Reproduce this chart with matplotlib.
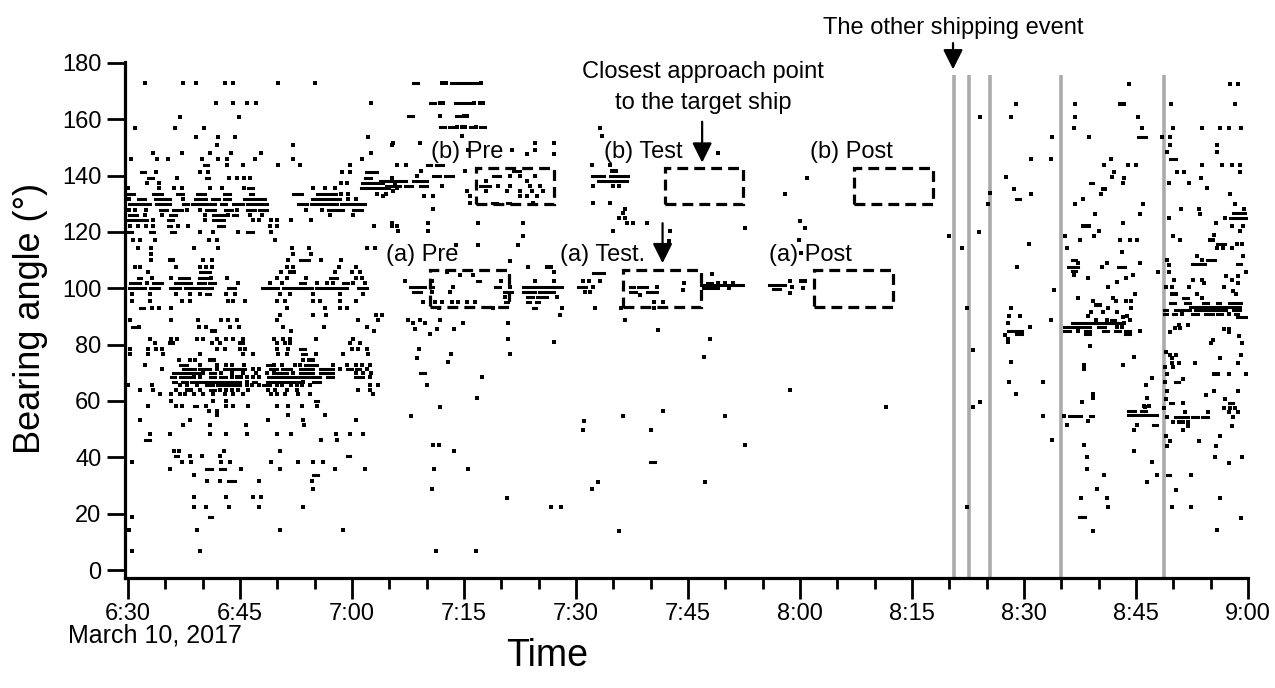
import matplotlib.pyplot as plt
from matplotlib.patches import Rectangle

plt.rcParams['font.family'] = ['Liberation Sans', 'DejaVu Sans']

# time is in minutes after 6:30 (March 10, 2017), angle in degrees
tick_minutes = list(range(0, 151, 15))
tick_labels = ['6:30', '6:45', '7:00', '7:15', '7:30', '7:45',
               '8:00', '8:15', '8:30', '8:45', '9:00']
angle_ticks = list(range(0, 181, 20))

# the other shipping event (grey lines)
event_minutes = [110.6, 112.6, 115.4, 124.9, 138.7]

# analysis windows: (start, end) in minutes, angle span per group
windows_a = [(40.4, 51.0), (66.3, 76.8), (91.9, 102.4)]
windows_b = [(46.6, 57.0), (71.9, 82.4), (97.3, 107.8)]
span_a = (93.5, 106.5)
span_b = (129.9, 142.6)
names_a = ['(a) Pre', '(a) Test.', '(a) Post']
names_b = ['(b) Pre', '(b) Test', '(b) Post']

# detections before ~7:07: (angle, [times])
early_dot_rows = [
    (172.7, [2.3, 7.4, 9.1, 13.0, 14.1, 20.1, 25.0]),
    (165.6, [11.8, 14.1, 16.0, 17.2, 32.6]),
    (160.8, [7.0, 14.9]),
    (157.0, [0.9, 6.3, 10.2]),
    (153.7, [9.1, 12.1, 14.3, 32.2]),
    (150.9, [11.9, 22.1, 35.3]),
    (148.0, [3.3, 7.2, 11.0, 13.8, 17.8, 32.6]),
    (145.9, [0.4, 3.9, 5.3, 9.9, 12.0, 13.3, 17.0, 22.1, 31.4]),
    (143.6, [13.3, 15.4, 20.1, 23.0, 29.8, 36.0]),
    (141.2, [3.8, 9.6, 10.7, 28.7, 29.8]),
    (139.3, [6.6, 13.5, 14.6, 15.5, 16.4, 35.4]),
    (137.4, [2.6, 4.1, 28.5, 29.3, 35.8]),
    (135.5, [0.0, 4.2, 6.2, 7.2, 11.0, 12.6, 15.5, 24.8, 26.4, 27.7, 36.1]),
    (133.6, [28.6, 29.5, 33.3, 34.6]),
    (131.7, [0.2, 7.4, 29.5, 30.5]),
    (127.9, [0.2, 0.9, 2.4, 7.9, 9.6, 14.6, 23.9, 26.0]),
    (126.0, [2.3, 4.5, 10.3, 13.4, 16.3, 18.0, 27.0, 30.2]),
    (124.1, [3.4, 10.3, 16.8, 17.5, 19.2, 19.9, 21.9, 24.5]),
    (122.2, [0.3, 1.4, 2.4, 3.4, 6.7, 8.1, 19.0, 19.9, 32.9, 35.3, 36.0]),
    (119.9, [9.6, 11.4, 14.7, 19.2]),
    (117.3, [0.7, 1.6, 3.6, 10.8, 11.9, 19.7]),
    (114.2, [1.4, 3.1, 8.8, 12.1, 22.0, 24.2, 32.0, 33.1]),
    (112.3, [3.1, 22.1, 24.5]),
    (110.0, [3.1, 5.6, 6.1, 10.0, 11.3, 21.5, 25.9, 28.6]),
    (107.6, [0.9, 1.6, 6.5, 9.6, 10.5, 11.3, 21.3, 22.1, 28.2, 30.6]),
    (105.7, [2.7, 20.5, 21.7, 22.3, 27.7, 30.0, 31.1]),
    (103.6, [3.2, 5.8, 11.1, 13.3, 20.0, 21.3, 23.9, 30.6, 31.3]),
    (101.9, [2.5, 14.8, 19.0, 20.6, 25.3, 26.6, 27.5, 30.2, 31.7]),
    (98.1, [0.5, 2.9, 6.5, 8.3, 9.6, 13.2, 14.3, 20.4, 21.7, 24.8, 28.4, 31.5]),
    (95.5, [0.5, 2.9, 7.2, 8.3, 13.4, 14.1, 15.7, 19.9, 21.0, 24.8, 25.7, 28.4, 30.6]),
    (93.1, [3.2, 4.1, 5.8, 21.3, 26.4, 28.4, 29.3]),
    (90.5, [20.4, 24.8, 26.5, 33.2, 34.0]),
    (88.7, [0.3, 5.8, 9.4, 12.5, 13.4, 14.6, 19.9, 30.8, 33.5]),
    (86.3, [1.5, 9.5, 10.5, 13.7, 14.9, 20.8, 26.2, 32.0]),
    (84.8, [11.2, 11.7, 21.9, 32.9]),
    (82.1, [2.9, 5.8, 6.6, 9.2, 10.1, 11.9, 13.2, 14.1, 15.4, 19.5, 20.8, 21.7, 25.2, 30.2]),
    (80.4, [3.6, 5.6, 6.1, 11.3, 12.3, 15.0, 15.4, 19.9, 21.0, 21.7, 29.7, 31.1]),
    (78.3, [0.3, 2.7, 3.8, 4.6, 11.9, 13.0, 15.0, 15.7, 19.9, 21.5, 30.0, 30.8, 32.0]),
    (76.8, [0.3, 2.7, 4.7, 9.6, 15.4, 16.8, 20.1, 21.3, 25.2, 28.8, 32.2]),
    (74.4, [6.9, 8.3, 9.0, 11.0, 11.5, 23.5, 24.2, 24.8]),
    (72.9, [2.3, 9.6, 11.9, 13.2, 13.9, 15.5, 19.5, 20.6, 22.4, 23.0, 27.5, 29.3, 30.5, 31.4, 32.4]),
    (71.4, [4.6, 11.9, 16.8, 17.5, 28.4, 32.0]),
    (70.0, [10.1, 12.5, 13.9, 15.4, 17.2, 18.6, 19.5, 22.1, 30.6, 31.5, 32.6]),
    (68.5, [8.8, 9.6, 13.9, 14.6, 15.2, 15.9, 16.8, 17.5, 32.4]),
    (66.9, [15.9, 23.5]),
    (65.5, [0.0, 3.2, 7.0, 7.9, 9.2, 15.9, 16.6, 17.5, 19.9, 20.6, 21.9, 22.6, 23.3, 24.4, 32.4, 33.5]),
    (64.0, [1.6, 3.4, 6.5, 7.9, 8.5, 9.6, 12.3, 13.1, 13.9, 14.8, 16.1, 18.8, 19.7, 21.3, 22.6, 30.8, 32.4]),
    (62.5, [4.3, 5.8, 7.0, 7.6, 8.8, 10.1, 11.4, 13.0, 14.1, 15.4, 19.2, 19.9, 21.0, 22.8, 24.4, 32.8]),
    (60.1, [5.8, 11.4, 13.1]),
    (58.3, [2.7, 6.5, 7.2, 10.5, 13.2, 14.1, 16.1, 19.9, 21.5, 23.3, 25.3]),
    (56.5, [10.9, 11.9]),
    (55.1, [11.9, 21.5, 26.4]),
    (53.2, [1.6, 8.3, 18.8, 23.5, 30.5]),
    (51.5, [7.4, 11.0, 15.8, 23.6]),
    (48.2, [2.9, 5.6, 11.0, 13.2, 15.9, 19.9, 21.9, 27.9, 29.8, 31.5]),
    (46.1, [25.8, 28.0]),
    (42.3, [6.2, 6.9, 12.8, 20.4]),
    (40.5, [8.3, 9.9, 12.3]),
    (38.3, [0.6, 7.2, 8.4, 12.4, 13.7, 19.1, 22.8, 24.8, 26.1]),
    (36.0, [5.6, 15.2, 20.4, 27.7, 31.7]),
    (33.6, [8.8]),
    (31.5, [10.6, 12.3, 17.5, 24.7]),
    (28.6, [24.8]),
    (26.0, [8.9, 13.1, 16.8, 17.8]),
    (22.4, [8.8, 10.5, 13.6, 17.6, 23.5]),
    (18.8, [0.5]),
    (14.3, [0.2, 9.2, 20.3, 28.8]),
    (6.9, [0.6, 9.6]),
]

# continuous detections at one angle: (angle, [(start, end), ...])
early_run_rows = [
    (143.6, [(10.2, 10.7)]),
    (141.2, [(1.7, 2.3), (31.9, 33.4)]),
    (139.3, [(2.7, 3.3), (10.4, 10.8), (31.8, 32.5)]),
    (137.4, [(31.3, 34.2)]),
    (135.5, [(16.1, 16.8), (31.2, 34.9)]),
    (133.6, [(0.0, 0.8), (3.4, 4.5), (6.6, 7.4), (9.2, 10.3), (12.8, 13.7), (16.3, 16.8),
             (22.1, 23.3), (25.3, 26.4), (26.8, 27.8)]),
    (131.7, [(1.3, 2.3), (3.6, 4.6), (5.0, 5.6), (9.0, 10.5), (11.3, 12.2), (12.8, 13.7),
             (15.5, 16.6), (17.0, 18.3), (24.7, 26.0), (26.4, 28.4)]),
    (129.8, [(0.2, 2.9), (3.8, 5.6), (7.4, 8.0), (8.6, 9.6), (10.1, 11.7), (12.5, 13.2),
             (14.1, 15.4), (15.9, 17.5), (17.8, 18.6), (22.8, 24.0), (24.5, 26.6),
             (27.1, 28.0), (28.6, 29.8), (30.2, 31.7)]),
    (127.9, [(4.3, 5.2), (6.1, 7.3), (10.5, 11.7), (13.0, 13.9), (15.9, 17.0), (17.5, 18.6),
             (26.8, 28.8), (30.2, 31.3)]),
    (126.0, [(0.2, 1.2), (5.6, 6.5), (11.4, 12.8), (14.1, 14.6)]),
    (124.1, [(0.0, 1.4), (1.8, 2.5), (5.4, 6.0), (11.4, 12.8)]),
    (122.2, [(5.4, 5.8), (12.1, 12.8)]),
    (119.9, [(0.0, 0.5), (2.9, 3.5), (5.8, 6.3), (15.9, 16.8)]),
    (110.0, [(23.0, 24.2)]),
    (105.7, [(9.6, 11.0)]),
    (103.6, [(1.4, 1.8), (6.9, 8.2), (9.5, 10.9), (27.0, 28.0)]),
    (101.9, [(0.3, 1.6), (3.4, 4.5), (6.3, 8.5), (9.4, 10.3), (10.8, 11.7), (23.0, 23.7),
             (28.8, 29.5)]),
    (100.0, [(0.2, 2.3), (2.9, 4.1), (5.6, 7.0), (7.6, 9.6), (10.1, 11.2), (13.4, 14.3),
             (17.9, 19.0), (19.4, 20.1), (20.8, 22.0), (22.4, 23.5), (23.9, 24.6),
             (25.2, 26.6), (27.1, 28.0), (28.4, 29.3), (30.8, 32.0)]),
    (98.1, [(10.5, 11.0)]),
    (93.1, [(1.6, 2.1)]),
    (86.3, [(0.5, 0.9)]),
    (78.3, [(23.0, 23.7)]),
    (76.8, [(23.3, 23.8)]),
    (72.9, [(7.0, 7.9), (18.6, 19.0), (23.7, 25.3)]),
    (71.4, [(7.4, 9.0), (9.5, 11.0), (12.8, 14.0), (14.4, 15.7), (19.0, 19.9), (20.6, 21.9),
            (23.0, 24.8), (25.7, 27.5), (29.3, 30.0), (30.5, 31.1)]),
    (70.0, [(6.1, 7.0), (7.4, 9.6), (11.0, 11.7), (19.9, 21.3), (23.0, 24.8), (25.7, 27.5)]),
    (68.5, [(5.8, 6.3), (7.0, 8.3), (11.0, 11.7), (12.3, 13.2), (18.8, 19.5), (19.9, 22.6),
            (23.0, 25.7), (26.6, 27.5), (30.4, 31.5)]),
    (66.9, [(6.1, 6.5), (7.2, 7.9), (8.5, 9.6), (10.1, 12.5), (12.9, 15.0), (16.8, 17.2),
            (18.6, 21.3), (21.7, 23.0), (24.8, 25.7)]),
    (65.5, [(10.5, 11.4), (11.9, 13.0), (13.4, 15.0), (18.1, 19.0)]),
    (64.0, [(11.0, 11.7)]),
    (60.1, [(25.0, 25.5)]),
    (58.3, [(8.8, 9.2)]),
    (46.1, [(2.3, 2.9)]),
    (40.5, [(6.3, 6.7), (29.4, 29.8)]),
    (36.0, [(10.5, 11.2), (12.3, 13.0)]),
    (33.6, [(24.8, 25.5)]),
    (31.5, [(13.4, 14.3)]),
    (18.8, [(10.8, 11.2)]),
]

# 7:05 - 8:25
mid_run_rows = [
    (172.9, [(38.2, 38.9), (43.2, 43.9), (44.3, 45.0), (45.4, 46.1), (46.5, 47.0)]),
    (165.8, [(40.4, 41.1), (43.8, 44.4), (44.8, 46.0)]),
    (161.1, [(37.5, 38.2), (44.0, 44.5)]),
    (157.3, [(41.8, 42.4), (43.0, 43.6), (45.8, 46.3), (47.2, 47.8)]),
    (143.9, [(40.0, 40.6), (41.3, 42.2)]),
    (141.5, [(51.6, 52.5)]),
    (139.8, [(40.9, 41.8), (42.4, 43.6), (48.9, 49.8), (62.1, 63.7), (64.5, 65.5), (65.9, 67.0)]),
    (138.0, [(33.8, 37.3), (38.2, 40.0), (62.9, 66.8)]),
    (136.2, [(34.6, 36.4), (37.1, 38.0), (39.1, 40.0), (47.1, 48.5)]),
    (130.1, [(48.7, 49.4), (50.7, 51.2)]),
    (105.4, [(62.3, 63.7)]),
    (102.4, [(46.7, 47.1)]),
    (102.0, [(77.5, 78.2)]),
    (101.2, [(85.8, 88.0)]),
    (101.0, [(76.8, 79.5), (80.0, 82.4)]),
    (100.6, [(37.8, 39.8), (40.5, 40.9), (49.1, 49.8), (52.9, 54.0), (54.4, 56.0), (56.4, 58.1),
             (60.3, 61.4), (67.2, 67.8), (68.3, 69.5)]),
    (100.0, [(77.0, 79.0)]),
    (99.6, [(86.4, 87.3)]),
    (98.8, [(38.2, 39.3), (50.3, 51.4), (52.9, 54.5), (55.0, 57.0), (67.2, 68.0), (69.5, 70.8)]),
    (97.0, [(53.4, 54.2), (54.8, 56.1)]),
    (95.2, [(50.5, 50.9), (53.4, 53.8), (54.6, 55.0)]),
    (92.9, [(54.3, 54.7)]),
    (69.9, [(39.1, 39.8)]),
    (38.3, [(69.9, 70.6)]),
]

mid_dots = [
    (42.0, 172.9), (42.6, 172.9), (47.3, 172.9), (41.8, 165.8), (42.2, 165.8), (46.4, 165.8),
    (47.1, 165.8), (47.6, 165.8), (41.8, 161.1), (45.0, 161.1), (45.4, 161.1), (44.7, 157.3),
    (45.1, 157.3), (44.1, 157.3), (46.6, 157.3),
    (63.2, 157.0), (63.5, 154.2), (44.7, 154.2), (35.5, 151.6), (39.1, 151.6), (54.5, 151.6),
    (57.0, 151.6), (45.6, 149.2), (51.4, 149.2), (54.5, 149.2), (53.4, 147.5), (57.0, 147.5),
    (36.0, 143.9), (37.3, 143.9), (62.1, 143.9), (64.5, 143.9), (39.3, 141.5), (45.1, 141.5),
    (64.8, 141.5), (65.4, 141.5), (38.7, 139.8), (51.2, 139.8), (52.5, 139.8), (54.5, 139.8),
    (48.0, 138.0), (53.4, 138.0), (42.0, 136.2), (49.6, 136.2), (51.2, 136.2), (53.8, 136.2),
    (55.2, 136.2), (62.3, 136.2), (65.0, 136.2), (65.8, 136.2), (35.5, 134.4), (45.4, 134.4),
    (48.0, 134.4), (50.7, 134.4), (52.5, 134.4), (54.1, 134.4), (55.6, 134.4), (34.2, 132.7),
    (39.6, 132.7), (40.9, 132.7), (45.8, 132.7), (52.5, 132.7), (53.4, 132.7), (54.8, 132.7),
    (45.8, 130.1), (54.3, 130.1), (62.3, 130.1), (64.5, 130.1), (40.9, 128.0), (66.6, 128.0),
    (66.3, 126.7), (65.7, 125.0), (66.6, 125.0), (35.3, 123.2), (40.2, 123.2), (46.9, 123.2),
    (52.9, 123.2), (66.8, 123.2), (67.7, 123.2), (69.5, 123.2), (36.2, 120.2), (40.2, 120.2),
    (65.0, 120.2), (72.6, 120.2), (52.9, 118.5), (72.4, 116.7), (44.0, 115.5), (46.9, 115.5),
    (52.3, 115.5), (51.2, 109.5), (53.6, 107.7), (56.1, 107.7), (56.7, 107.7), (42.7, 105.9),
    (57.0, 105.9), (44.5, 104.8), (46.2, 104.8), (37.1, 102.4), (40.7, 102.4), (50.0, 102.4),
    (54.5, 102.4), (57.0, 102.4), (61.0, 102.4), (61.7, 102.4), (63.2, 102.4), (43.6, 100.6),
    (51.2, 100.6), (62.3, 100.6), (70.8, 100.6), (40.7, 98.8), (43.1, 98.8), (61.2, 98.8),
    (61.9, 98.8), (68.6, 97.6), (50.5, 97.0), (57.4, 97.0), (39.5, 95.2), (41.1, 95.2),
    (42.0, 95.2), (43.4, 95.2), (44.2, 95.2), (45.4, 95.2), (46.5, 95.2), (70.4, 95.2),
    (71.7, 95.2), (41.6, 92.9), (48.9, 92.9), (58.1, 92.9), (62.5, 92.9), (66.1, 92.9),
    (70.4, 92.9), (34.0, 90.5), (57.9, 90.5), (37.5, 88.7), (39.1, 88.7), (41.8, 88.7),
    (66.6, 88.7), (38.2, 87.5), (39.8, 87.5), (44.9, 87.5), (50.9, 87.5), (38.4, 85.7),
    (41.4, 85.7), (43.7, 85.7), (71.0, 85.1), (40.5, 83.6), (50.9, 82.1), (57.1, 81.0),
    (39.0, 78.3), (43.3, 76.8), (51.2, 76.8), (38.7, 75.4), (42.9, 74.0), (47.4, 68.5),
    (40.0, 65.5), (46.8, 61.0), (41.8, 58.0), (71.6, 56.3), (37.9, 54.8), (66.3, 54.8),
    (61.1, 53.0), (60.9, 49.8), (70.1, 49.8), (40.8, 44.3), (41.7, 44.3), (43.7, 42.3),
    (41.0, 36.0), (45.6, 36.0), (62.9, 31.2), (40.7, 28.6), (62.1, 28.6), (50.8, 25.6),
    (56.7, 22.4), (58.0, 22.4), (65.8, 14.0), (41.2, 6.9), (46.6, 6.9),
    (79.0, 147.9), (90.9, 139.1), (88.0, 133.5), (82.7, 121.5), (90.0, 123.7), (90.7, 121.3),
    (89.9, 117.2), (90.1, 112.4), (78.2, 105.0), (79.0, 102.0), (80.0, 102.0), (81.0, 102.0),
    (80.5, 100.0), (88.7, 102.4), (88.7, 98.2), (89.0, 100.5), (90.2, 102.4), (90.7, 102.4),
    (90.4, 100.0), (74.4, 99.4), (74.5, 102.0), (77.9, 82.1), (77.1, 75.5), (88.7, 64.0),
    (101.5, 58.0), (79.9, 54.8), (82.7, 44.3), (77.3, 31.3),
    (112.4, 92.9), (113.2, 78.2), (113.2, 58.0), (114.1, 59.5), (112.4, 22.4), (114.1, 160.7),
    (115.4, 133.7), (115.2, 129.9), (110.0, 118.6), (111.7, 114.2), (114.0, 120.1),
]

# 8:25 - 9:00
late_run_rows = [
    (153.8, [(135.3, 136.4)]),
    (145.9, [(139.6, 140.3)]),
    (137.4, [(128.8, 129.2)]),
    (131.7, [(118.9, 119.5)]),
    (126.7, [(148.0, 149.6)]),
    (125.0, [(147.6, 149.8)]),
    (115.7, [(145.9, 146.9)]),
    (110.0, [(126.4, 127.0), (144.5, 145.6)]),
    (108.5, [(142.5, 144.2), (148.5, 149.1)]),
    (107.7, [(125.9, 127.3), (132.6, 133.5)]),
    (106.2, [(126.4, 127.0)]),
    (96.6, [(141.3, 142.0)]),
    (94.9, [(139.5, 140.2), (141.6, 142.2), (144.0, 144.7), (145.8, 146.3), (147.4, 149.1)]),
    (93.5, [(142.2, 146.9), (147.1, 148.9)]),
    (92.3, [(138.7, 139.1), (140.2, 142.2), (142.9, 144.7), (145.1, 147.1), (148.0, 148.9)]),
    (90.9, [(138.8, 139.1), (140.0, 140.4), (142.5, 143.3), (144.2, 145.3), (145.8, 146.5),
            (148.2, 148.7)]),
    (89.7, [(148.5, 149.8)]),
    (88.7, [(131.7, 132.2)]),
    (87.5, [(126.4, 129.4), (129.8, 130.8), (131.1, 133.1)]),
    (86.1, [(125.3, 128.8), (129.9, 130.8)]),
    (84.9, [(117.9, 119.8), (125.3, 126.2), (128.2, 128.8), (130.6, 131.3), (132.2, 132.9),
            (133.5, 134.2)]),
    (83.6, [(118.9, 119.8), (128.2, 128.8), (133.5, 134.2)]),
    (66.6, [(140.2, 140.7)]),
    (59.2, [(139.5, 139.9), (147.4, 148.0)]),
    (56.5, [(134.0, 134.9), (135.7, 136.4)]),
    (55.0, [(134.0, 136.9), (137.3, 137.8)]),
    (54.8, [(126.0, 127.7), (128.8, 129.3)]),
    (54.4, [(140.2, 142.0), (142.5, 143.3), (143.8, 144.7)]),
    (51.4, [(137.3, 137.8)]),
    (33.7, [(139.1, 139.5)]),
    (18.7, [(127.4, 128.2)]),
]

late_dots = [
    (117.6, 139.4), (118.3, 160.7), (119.0, 165.4), (118.6, 135.4), (120.7, 115.7),
    (120.9, 145.9), (120.9, 133.6), (123.6, 145.9), (123.8, 153.8), (125.5, 118.7),
    (125.8, 114.2), (126.9, 165.4), (126.9, 160.7), (126.7, 157.0), (126.9, 130.0),
    (127.9, 131.7), (127.9, 122.0), (128.4, 122.0), (128.7, 122.0), (127.5, 117.3),
    (128.7, 153.8), (129.5, 126.5), (129.4, 118.7), (130.0, 120.2), (130.3, 133.6),
    (130.6, 135.4), (130.9, 135.4), (130.7, 143.6), (131.7, 145.9), (131.8, 139.4),
    (132.1, 141.3), (132.8, 165.4), (133.4, 165.4), (132.8, 117.3), (133.2, 137.2),
    (133.4, 139.3), (133.1, 112.8), (133.3, 123.2), (134.1, 172.5), (133.9, 143.6),
    (135.0, 143.6), (134.2, 117.3), (135.2, 117.3), (135.3, 160.7), (135.8, 157.0),
    (135.6, 126.5), (135.9, 130.0), (137.9, 105.8), (138.5, 153.8),
    (118.3, 92.9), (118.0, 90.1), (119.5, 90.1), (117.8, 87.5), (120.8, 86.1), (117.4, 83.3),
    (117.8, 82.1), (117.8, 81.0), (118.3, 74.0), (118.0, 66.9), (119.0, 62.5), (122.5, 66.9),
    (122.5, 54.8), (123.7, 46.1), (123.6, 88.8), (124.0, 99.4), (119.1, 107.7),
    (126.7, 104.8), (127.3, 108.9), (128.6, 103.6), (127.2, 96.7), (130.4, 107.7),
    (131.1, 108.9), (131.3, 100.6), (131.9, 96.7), (132.5, 102.1), (133.6, 103.6),
    (134.6, 104.8), (135.5, 108.9), (129.2, 95.5), (129.6, 94.0), (130.2, 94.0), (131.3, 92.9),
    (132.3, 95.5), (133.7, 95.5), (134.3, 95.5), (134.9, 98.1), (134.3, 92.9), (128.6, 90.1),
    (129.0, 91.4), (129.7, 88.7), (130.6, 91.4), (131.1, 88.7), (132.4, 91.4), (133.3, 89.9),
    (133.8, 90.1), (134.2, 88.7), (133.4, 87.5), (135.5, 84.9), (132.4, 86.1), (133.1, 86.1),
    (127.3, 84.9), (128.8, 79.5), (128.0, 72.6), (128.0, 71.4), (133.2, 72.6), (134.8, 75.5),
    (127.8, 59.5), (129.2, 62.5), (129.2, 61.0), (125.3, 54.8), (125.8, 51.4), (128.6, 53.0),
    (128.1, 44.3), (128.4, 40.2), (128.5, 36.0), (130.7, 33.7), (129.8, 28.6), (127.7, 25.7),
    (131.1, 25.7), (131.2, 22.4), (129.2, 14.0), (136.2, 58.0), (135.2, 51.4), (134.8, 49.6),
    (136.5, 61.0), (136.8, 58.3), (136.1, 58.3), (136.4, 65.5), (137.1, 68.3), (134.8, 42.3),
    (137.1, 38.3), (136.5, 31.3), (137.8, 33.7),
    (147.6, 172.5), (148.7, 172.5), (139.7, 165.4), (148.2, 165.4), (139.9, 156.9),
    (143.8, 156.9), (146.2, 156.9), (147.4, 156.9), (149.1, 156.9), (139.5, 153.7),
    (139.5, 150.9), (139.2, 148.3), (145.8, 150.9), (145.9, 148.3), (143.9, 143.6),
    (146.5, 143.6), (147.8, 143.6), (148.9, 143.6), (140.5, 141.3), (141.4, 141.3),
    (148.9, 141.3), (143.7, 139.3), (139.4, 137.4), (142.1, 137.4), (144.5, 135.5),
    (147.6, 133.6), (148.3, 130.0), (149.5, 128.2), (141.0, 128.2), (143.5, 128.2),
    (143.6, 126.2), (139.4, 125.0), (146.9, 125.0), (145.7, 123.2), (147.8, 122.0),
    (149.4, 122.0), (148.9, 120.2), (139.9, 118.7), (140.9, 117.3), (144.9, 117.3),
    (145.3, 117.3), (145.4, 118.8), (145.8, 114.2), (146.7, 114.2), (147.8, 114.2),
    (148.5, 115.7), (149.2, 115.7), (143.2, 111.4), (143.8, 110.0), (149.4, 111.4),
    (139.2, 110.0), (139.4, 108.4), (139.4, 105.8), (140.1, 103.1), (142.6, 103.1),
    (143.8, 103.1), (144.1, 101.9), (142.1, 100.4), (147.1, 104.3), (147.8, 103.1),
    (148.7, 104.3), (149.7, 105.8), (146.8, 100.4), (148.7, 101.9), (148.0, 98.9),
    (148.4, 97.8), (139.0, 100.4), (139.8, 100.4), (139.8, 97.8), (140.4, 97.8),
    (143.2, 97.8), (143.8, 96.6), (141.1, 90.9), (147.4, 90.9),
    (140.2, 85.8), (140.9, 85.8), (140.8, 87.0), (142.0, 87.0), (139.5, 84.3), (146.8, 85.4),
    (147.4, 85.4), (147.4, 84.3), (148.8, 83.1), (145.3, 81.7), (145.1, 80.5), (149.2, 80.5),
    (139.0, 77.5), (139.6, 76.3), (140.3, 76.3), (149.1, 76.3), (139.8, 75.1), (146.3, 75.1),
    (139.8, 73.6), (140.8, 73.6), (142.9, 73.6), (148.7, 73.6), (138.9, 72.2), (139.9, 72.2),
    (139.2, 69.6), (145.5, 69.6), (146.0, 69.6), (147.5, 69.6), (149.7, 69.6), (141.3, 67.8),
    (138.9, 66.6), (139.2, 63.7), (145.4, 63.7), (148.6, 63.7), (144.4, 62.1), (139.0, 60.6),
    (146.9, 60.6), (141.3, 59.2), (138.8, 57.6), (146.8, 57.6), (147.6, 57.6), (148.2, 57.6),
    (141.6, 56.1), (144.7, 56.1), (147.4, 56.1), (148.6, 56.1), (139.1, 54.4), (148.0, 54.4),
    (140.0, 52.7), (140.7, 52.7), (141.3, 52.7), (142.0, 52.7), (142.0, 51.1), (147.8, 51.1),
    (141.3, 49.7), (139.0, 47.7), (146.3, 47.7), (139.5, 45.9), (143.4, 45.9), (139.2, 44.1),
    (145.7, 44.1), (145.6, 40.2), (149.2, 40.2), (147.5, 38.1), (142.4, 33.7), (140.3, 28.4),
    (146.2, 25.4), (139.8, 22.5), (142.4, 22.5), (149.1, 18.6), (145.8, 14.2),
]

# gather points and runs
dot_t, dot_a = [], []
for deg, times in early_dot_rows:
    dot_t += times
    dot_a += [deg] * len(times)
for t, deg in mid_dots + late_dots:
    dot_t.append(t)
    dot_a.append(deg)

run_y, run_x0, run_x1 = [], [], []
for deg, spans in early_run_rows + mid_run_rows + late_run_rows:
    for t0, t1 in spans:
        run_y.append(deg)
        run_x0.append(t0)
        run_x1.append(t1)

fig = plt.figure(figsize=(12.75, 6.88), dpi=100)
ax = fig.add_axes([0.098, 0.16, 0.8808, 0.7503])

ax.vlines(event_minutes, -3, 175.7, colors='#ababab', lw=2.6, zorder=1)
ax.plot(dot_t, dot_a, ls='none', marker='s', ms=2.3, mew=0, color='k', zorder=3)
ax.hlines(run_y, run_x0, run_x1, colors='k', lw=2.2, capstyle='projecting', zorder=3)

box_style = dict(fill=False, ec='k', lw=2.3, ls=(0, (3.4, 1.9)), zorder=4)
for (t0, t1) in windows_a:
    ax.add_patch(Rectangle((t0, span_a[0]), t1 - t0, span_a[1] - span_a[0], **box_style))
for (t0, t1) in windows_b:
    ax.add_patch(Rectangle((t0, span_b[0]), t1 - t0, span_b[1] - span_b[0], **box_style))

for name, x in zip(names_a, [39.4, 63.5, 91.4]):
    ax.text(x, 111.8, name, ha='center', va='center', fontsize=17, zorder=5)
for name, x in zip(names_b, [45.5, 69.0, 96.9]):
    ax.text(x, 148.3, name, ha='center', va='center', fontsize=17, zorder=5)

ax.text(77.0, 176.8, 'Closest approach point', ha='center', va='center', fontsize=17)
ax.text(77.0, 165.8, 'to the target ship', ha='center', va='center', fontsize=17)
ax.text(110.5, 192.5, 'The other shipping event', ha='center', va='center',
        fontsize=17, clip_on=False)

arrow = dict(arrowstyle='-|>,head_length=0.6,head_width=0.3', color='k', lw=1.6,
             shrinkA=0, shrinkB=0, mutation_scale=20)
ax.annotate('', xy=(76.9, 144.6), xytext=(76.9, 159.1), arrowprops=arrow)
ax.annotate('', xy=(71.6, 108.9), xytext=(71.6, 123.1), arrowprops=arrow)
ax.annotate('', xy=(110.5, 177.7), xytext=(110.5, 187.0), arrowprops=arrow,
            annotation_clip=False)

ax.set_xlim(-0.4, 150)
ax.set_ylim(-2.8, 180.4)
ax.set_xticks(tick_minutes, tick_labels)
ax.set_xticks(range(0, 151, 5), minor=True)
ax.set_yticks(angle_ticks)
for side in ['top', 'right']:
    ax.spines[side].set_visible(False)
for side in ['left', 'bottom']:
    ax.spines[side].set_linewidth(2.3)
ax.tick_params(axis='both', which='major', length=13, width=2, labelsize=17, pad=4)
ax.tick_params(axis='x', which='major', length=15, pad=3)
ax.tick_params(axis='x', which='minor', length=8, width=2)

fig.text(31 / 1275, 1 - 318 / 688, 'Bearing angle (°)', rotation=90,
         ha='center', va='center', fontsize=26)
fig.text(547 / 1275, 1 - 656 / 688, 'Time', ha='center', va='center', fontsize=27)
fig.text(68 / 1275, 1 - 636 / 688, 'March 10, 2017', ha='left', va='center', fontsize=18)

fig.savefig('out.png', dpi=100)
